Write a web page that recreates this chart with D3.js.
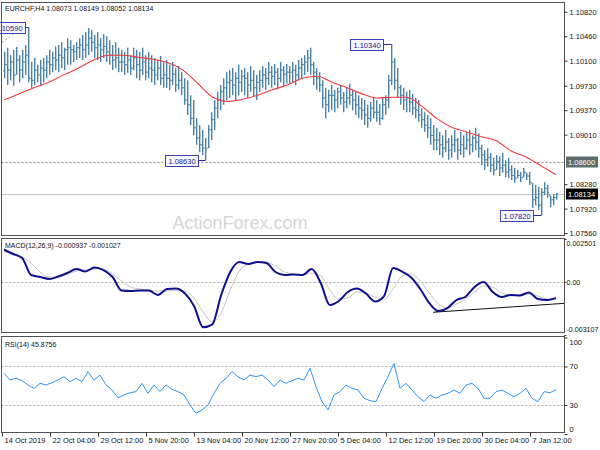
<!DOCTYPE html>
<html><head><meta charset="utf-8">
<script src="https://cdn.jsdelivr.net/npm/d3@7"></script>
<style>
html,body{margin:0;padding:0;background:#fff;}
svg{display:block;font-family:"Liberation Sans",Arial,sans-serif;}
</style></head><body>
<svg id="c" width="600" height="450"></svg>
<script>
// ---------------- DATA ----------------
const titleText = "EURCHF,H4  1.08073 1.08149 1.08052 1.08134";
const macdTitle = "MACD(12,26,9) -0.000937 -0.001027";
const rsiTitle = "RSI(14) 45.8756";
const watermark = "ActionForex.com";
const firstOpen = 1.0995;
const highs = [1.1023,1.1029,1.1018,1.1026,1.1030,1.1018,1.1026,1.1033,1.1059,1.1008,1.1014,1.1004,1.1011,
1.1014,1.1018,1.1026,1.1023,1.1031,1.1033,1.1037,1.1029,1.1043,1.1040,1.1033,1.1037,1.1043,1.1048,
1.1052,1.1058,1.1055,1.1048,1.1052,1.1043,1.1049,1.1046,1.1040,1.1033,1.1037,1.1029,
1.1026,1.1023,1.1029,1.1018,1.1029,1.1026,1.1023,1.1029,1.1018,1.1023,
1.1018,1.1014,1.1011,1.1017,1.1008,1.1011,1.1004,1.1008,1.0999,1.1002,
1.0993,1.0984,1.0981,1.0959,1.0952,1.0925,1.0915,1.0908,1.0896,1.0915,1.0934,1.0952,1.0964,
1.0974,1.0984,1.0993,1.0996,1.0999,1.0993,1.1004,1.0996,1.0999,1.0993,1.1002,1.0996,1.0989,
1.0996,1.1002,1.0999,1.1008,1.1002,1.1005,1.0999,1.1008,1.1002,1.1005,1.1002,1.1008,1.1004,1.1011,1.1014,
1.1018,1.1026,1.1029,1.1008,1.0999,1.0993,1.0981,1.0970,1.0967,
1.0974,1.0967,1.0970,1.0974,1.0964,1.0970,1.0976,1.0967,1.0964,1.0959,
1.0955,1.0952,1.0945,1.0949,1.0955,1.0952,1.0946,1.0955,1.0959,1.0989,1.1034,1.1014,1.0999,
1.0974,1.0970,1.0964,1.0967,1.0961,1.0955,1.0952,1.0940,1.0934,1.0930,1.0925,1.0915,
1.0911,1.0905,1.0900,1.0908,1.0896,1.0900,1.0908,1.0896,1.0905,1.0900,
1.0905,1.0908,1.0900,1.0911,1.0903,1.0886,1.0878,1.0881,1.0874,1.0867,1.0871,
1.0869,1.0874,1.0863,1.0867,1.0856,1.0852,1.0849,1.0846,1.0852,1.0845,1.0846,1.0830,
1.0827,1.0824,1.0822,1.0831,1.0827,1.0811,1.0813,1.08149];
const lows = [1.0984,1.0974,1.0981,1.0973,1.0989,1.0978,1.0984,1.0989,1.0978,1.0970,1.0974,1.0978,1.0973,
1.0978,1.0984,1.0989,1.0993,1.0996,1.0993,1.0999,1.0996,1.1004,1.1004,1.1008,1.1011,1.1014,1.1011,
1.1014,1.1018,1.1023,1.1014,1.1011,1.1008,1.1014,1.1008,1.1004,1.0996,1.0999,1.0993,
1.0993,1.0989,1.0992,1.0989,1.0996,1.0984,1.0981,1.0989,1.0981,1.0984,
1.0978,1.0974,1.0981,1.0974,1.0970,1.0970,1.0967,1.0974,1.0964,1.0967,
1.0959,1.0945,1.0930,1.0915,1.0900,1.0886,1.0875,1.0871,1.0863,1.0881,1.0893,1.0908,1.0925,
1.0937,1.0945,1.0952,1.0955,1.0959,1.0952,1.0959,1.0964,1.0959,1.0955,1.0964,1.0958,1.0952,
1.0964,1.0970,1.0967,1.0974,1.0970,1.0974,1.0970,1.0978,1.0973,1.0976,1.0976,1.0978,1.0974,1.0981,1.0984,
1.0989,1.0993,1.0989,1.0974,1.0967,1.0964,1.0940,1.0925,1.0934,
1.0937,1.0934,1.0940,1.0945,1.0934,1.0940,1.0945,1.0937,1.0930,1.0925,
1.0923,1.0915,1.0911,1.0920,1.0925,1.0920,1.0915,1.0923,1.0930,1.0940,1.0974,1.0967,1.0955,
1.0945,1.0937,1.0934,1.0934,1.0930,1.0925,1.0920,1.0911,1.0905,1.0896,1.0886,1.0878,
1.0878,1.0871,1.0867,1.0875,1.0864,1.0867,1.0875,1.0864,1.0871,1.0867,
1.0878,1.0871,1.0875,1.0878,1.0867,1.0856,1.0849,1.0854,1.0846,1.0841,1.0849,
1.0840,1.0845,1.0838,1.0837,1.0834,1.0830,1.0837,1.0831,1.0838,1.0834,1.0827,1.0793,
1.0797,1.0790,1.0782,1.0812,1.0808,1.0794,1.0797,1.08052];
const closes = [1.1004,1.0996,1.1008,1.0989,1.1011,1.0996,1.1008,1.1018,1.0984,1.0981,1.0996,1.0989,1.0999,
1.0996,1.1008,1.1004,1.1014,1.1011,1.1018,1.1014,1.1026,1.1029,1.1026,1.1023,1.1029,1.1033,1.1026,
1.1033,1.1043,1.1037,1.1029,1.1033,1.1026,1.1031,1.1023,1.1018,1.1011,1.1014,1.1008,
1.1008,1.1004,1.1011,1.0999,1.1014,1.1004,1.0996,1.1008,1.0993,1.0999,
1.0996,1.0989,1.0999,1.0984,1.0989,1.0984,1.0981,1.0990,1.0974,1.0981,
1.0970,1.0952,1.0945,1.0925,1.0911,1.0896,1.0886,1.0881,1.0878,1.0908,1.0923,1.0940,1.0952,
1.0964,1.0970,1.0978,1.0981,1.0974,1.0984,1.0978,1.0987,1.0984,1.0974,1.0981,1.0970,1.0978,
1.0981,1.0989,1.0984,1.0993,1.0987,1.0993,1.0984,1.0996,1.0990,1.0993,1.0993,1.0996,1.0989,1.0999,1.1004,
1.1008,1.1014,1.1004,1.0993,1.0984,1.0974,1.0955,1.0945,1.0959,
1.0959,1.0952,1.0964,1.0955,1.0949,1.0955,1.0959,1.0952,1.0945,1.0940,
1.0937,1.0930,1.0925,1.0940,1.0934,1.0934,1.0925,1.0945,1.0952,1.0981,1.1008,1.0981,1.0970,
1.0959,1.0952,1.0955,1.0949,1.0940,1.0937,1.0930,1.0923,1.0915,1.0911,1.0900,1.0893,
1.0893,1.0886,1.0881,1.0890,1.0878,1.0886,1.0893,1.0878,1.0886,1.0881,
1.0893,1.0886,1.0896,1.0890,1.0881,1.0871,1.0864,1.0867,1.0856,1.0849,1.0861,
1.0852,1.0856,1.0846,1.0849,1.0841,1.0837,1.0841,1.0837,1.0846,1.0840,1.0831,1.0805,
1.0808,1.0797,1.0816,1.0822,1.0816,1.0805,1.0808,1.08134];
// moving average (red), sampled evenly across the bars
const maValues = [1.0952,1.0961,1.0970,1.0978,1.0989,1.0999,1.1011,1.1018,1.1018,1.1015,1.1012,1.1007,1.0996,
1.0976,1.0956,1.0950,1.0953,1.0959,1.0967,1.0974,1.0984,1.0987,1.0978,1.0970,1.0961,1.0955,1.0956,
1.0956,1.0943,1.0925,1.0912,1.0905,1.0898,1.0892,1.0877,1.0868,1.0855,1.0842];
const macdMain = [0.001887,0.001624,0.001390,0.000397,0.000280,0.000164,0.000310,0.000514,0.000748,0.000602,
0.000835,0.000689,0.000280,-0.000508,-0.000537,-0.000508,-0.000508,-0.000771,-0.000421,-0.000391,
-0.000684,-0.001414,-0.002650,-0.002500,-0.000771,0.000573,0.001157,0.001040,0.001157,0.001098,
0.000573,0.000397,0.000426,0.000397,0.000748,-0.000070,-0.001355,-0.001122,-0.000596,-0.000391,
-0.000684,-0.001151,-0.000830,0.000806,0.000590,0.000251,-0.000421,-0.001239,-0.001706,-0.001531,
-0.001063,-0.000870,-0.000304,-0.000012,-0.000596,-0.000888,-0.000771,-0.000800,-0.000625,-0.001005,
-0.001063,-0.000937];
const macdSignal = [0.001741,0.001682,0.001449,0.001098,0.000573,0.000280,0.000280,0.000456,0.000631,0.000689,
0.000748,0.000719,0.000456,0.000047,-0.000304,-0.000421,-0.000479,-0.000537,-0.000537,-0.000479,
-0.000537,-0.000946,-0.001764,-0.002348,-0.001823,-0.000479,0.000631,0.001040,0.001128,0.001157,
0.000923,0.000573,0.000456,0.000397,0.000514,0.000339,-0.000479,-0.001005,-0.000946,-0.000596,
-0.000654,-0.000888,-0.001005,-0.000421,0.000339,0.000456,0.000047,-0.000654,-0.001297,-0.001531,
-0.001297,-0.001005,-0.000596,-0.000245,-0.000304,-0.000654,-0.000771,-0.000771,-0.000713,-0.000830,
-0.001005,-0.001027];
const rsiValues = [62.9,56.0,57.7,55.3,50.8,47.3,52.5,50.8,53.2,56.0,
59.4,54.2,57.7,54.2,64.6,56.0,61.1,50.8,45.6,37.6,
40.4,42.8,43.9,52.5,42.1,50.8,43.9,50.8,46.3,43.9,
40.4,30.1,21.4,24.9,30.1,42.1,52.5,57.7,64.6,59.4,
56.0,61.1,59.4,61.1,56.0,49.0,56.0,52.5,55.3,57.7,
56.0,68.1,49.0,33.5,24.9,40.4,43.9,50.8,47.3,45.6,
37.0,34.5,33.5,47.3,59.4,73.2,47.3,52.5,45.6,38.7,
33.5,40.4,37.0,40.4,42.1,45.6,42.1,50.8,52.5,47.3,
37.0,37.0,43.9,45.6,42.1,38.7,42.1,47.3,37.0,33.5,
43.9,42.8,45.9];
const dateLabels = ["14 Oct 2019","22 Oct 04:00","29 Oct 12:00","5 Nov 20:00","13 Nov 04:00","20 Nov 12:00",
"27 Nov 20:00","5 Dec 04:00","12 Dec 12:00","19 Dec 20:00","30 Dec 04:00","7 Jan 12:00"];
const barsPerLabel = 16;
const priceTicks = [1.0756,1.0792,1.0828,1.0901,1.0937,1.0973,1.1010,1.1046,1.1082];
const macdTicks = [0.002501,0,-0.003107];
const macdTickText = ["0.002501","0.00","-0.003107"];
const rsiTicks = [100,70,30,0];
const rsiLevels = [70,30];
const hLine = 1.0860;
const lastPrice = 1.08134;
const notes = [{i:8,p:1.1059,t:"1.10590"},{i:67,p:1.0863,t:"1.08630"},{i:129,p:1.1034,t:"1.10340"},{i:179,p:1.0782,t:"1.07820"}];
const noteGap = [3,7,8,8];
const mainTrend = [[0,1.1037],[6,1.1058]];
const macdTrend = [[143,-0.00178],[184,-0.00129]];

// ---------------- LAYOUT ----------------
const svg = d3.select("#c");
const L = 1.5, R = 564.5;
const P = {main:{t:2.5,b:235.5}, macd:{t:238.5,b:332.5}, rsi:{t:336.5,b:432.5}};
const n = highs.length;
const x = d3.scaleLinear().domain([0,n-1]).range([4,556]);
const y = d3.scaleLinear().domain([1.0756,1.1082]).range([233.06,11.74]);
const ym = d3.scaleLinear().domain([-0.003107,0.002501]).range([335,239]);
const yr = d3.scaleLinear().domain([0,100]).range([434,337.5]);
const FONT = '"Liberation Sans",Arial,sans-serif';
const AX = 7.5;

const defs = svg.append("defs");
Object.entries(P).forEach(([k,p])=>{
  defs.append("clipPath").attr("id","clip-"+k).append("rect")
    .attr("x",L).attr("y",p.t).attr("width",R-L).attr("height",p.b-p.t);
});
svg.append("rect").attr("width",600).attr("height",450).attr("fill","#fff");

svg.append("text").attr("x",240).attr("y",229).attr("text-anchor","middle")
  .attr("font-size",18).attr("fill","#d6d6d6").attr("font-family",FONT).text(watermark);

// ---------- main panel ----------
const gm = svg.append("g").attr("clip-path","url(#clip-main)");
gm.append("line").attr("x1",L).attr("x2",R).attr("y1",Math.round(y(lastPrice))+0.5).attr("y2",Math.round(y(lastPrice))+0.5)
  .attr("stroke","#c4c4c4").attr("stroke-width",1);
gm.append("line").attr("x1",L).attr("x2",R).attr("y1",Math.round(y(hLine))+0.5).attr("y2",Math.round(y(hLine))+0.5)
  .attr("stroke","#8a8a8a").attr("stroke-dasharray","2,2");
gm.append("line").attr("x1",x(mainTrend[0][0])-2).attr("y1",y(mainTrend[0][1]))
  .attr("x2",x(mainTrend[1][0])).attr("y2",y(mainTrend[1][1]))
  .attr("stroke","#9a9a9a").attr("stroke-dasharray","2,2");

const bars = highs.map((h,i)=>{
  const prev = i===0 ? firstOpen : closes[i-1];
  return {i, h, l:lows[i], c:closes[i], o:Math.max(lows[i],Math.min(h,prev))};
});
const BAR = "#4b82a8";
gm.selectAll("rect.v").data(bars).join("rect").attr("class","v")
  .attr("x",d=>Math.round(x(d.i))).attr("y",d=>y(d.h)).attr("width",1.4)
  .attr("height",d=>Math.max(1,y(d.l)-y(d.h))).attr("fill",BAR);
gm.selectAll("rect.o").data(bars).join("rect").attr("class","o")
  .attr("x",d=>Math.round(x(d.i))-1).attr("y",d=>y(d.o)-0.5).attr("width",1).attr("height",1).attr("fill",BAR);
gm.selectAll("rect.cl").data(bars).join("rect").attr("class","cl")
  .attr("x",d=>Math.round(x(d.i))+1).attr("y",d=>y(d.c)-0.5).attr("width",1).attr("height",1).attr("fill",BAR);

const maIdx = d3.scaleLinear().domain([0,maValues.length-1]).range([0,n-1]);
gm.append("path").datum(maValues)
  .attr("d",d3.line().x((d,k)=>x(maIdx(k))).y(d=>y(d)).curve(d3.curveMonotoneX))
  .attr("fill","none").attr("stroke","#f03a3a").attr("stroke-width",1.1);

// annotation boxes
const gn = svg.append("g");
notes.forEach((nt,k)=>{
  const px = x(nt.i), py = y(nt.p);
  const bw = 33, bh = 11, right = px - noteGap[k];
  gn.append("line").attr("x1",right).attr("x2",px+0.5).attr("y1",Math.round(py)+0.5).attr("y2",Math.round(py)+0.5)
    .attr("stroke","#2a2a8a").attr("stroke-width",1);
  gn.append("rect").attr("x",right-bw+0.5).attr("y",Math.round(py-bh/2)+0.5).attr("width",bw).attr("height",bh)
    .attr("fill","#f6f6ff").attr("stroke","#4040b0").attr("stroke-width",1);
  gn.append("text").attr("x",right-bw/2+0.5).attr("y",Math.round(py)+3.5).attr("text-anchor","middle")
    .attr("font-size",AX).attr("font-family",FONT).attr("fill","#1c1c80").text(nt.t);
});

// ---------- MACD panel ----------
const gmc = svg.append("g").attr("clip-path","url(#clip-macd)");
gmc.append("line").attr("x1",L).attr("x2",R).attr("y1",Math.round(ym(0))+0.5).attr("y2",Math.round(ym(0))+0.5)
  .attr("stroke","#a8a8a8").attr("stroke-dasharray","2,2");
const mIdx = d3.scaleLinear().domain([0,macdMain.length-1]).range([0,n-1]);
gmc.append("path").datum(macdSignal)
  .attr("d",d3.line().x((d,k)=>x(mIdx(k))).y(d=>ym(d)).curve(d3.curveMonotoneX))
  .attr("fill","none").attr("stroke","#c3c3c3").attr("stroke-width",1);
gmc.append("path").datum(macdMain)
  .attr("d",d3.line().x((d,k)=>x(mIdx(k))).y(d=>ym(d)).curve(d3.curveMonotoneX))
  .attr("fill","none").attr("stroke","#10108f").attr("stroke-width",2);
{
  const x1 = x(macdTrend[0][0]), y1 = ym(macdTrend[0][1]);
  const x2 = x(macdTrend[1][0]), y2 = ym(macdTrend[1][1]);
  const slope = (y2-y1)/(x2-x1);
  gmc.append("line").attr("x1",x1).attr("y1",y1).attr("x2",R).attr("y2",y1+slope*(R-x1))
    .attr("stroke","#111").attr("stroke-width",1);
}

// ---------- RSI panel ----------
const gr = svg.append("g").attr("clip-path","url(#clip-rsi)");
rsiLevels.forEach(v=>{
  gr.append("line").attr("x1",L).attr("x2",R).attr("y1",Math.round(yr(v))+0.5).attr("y2",Math.round(yr(v))+0.5)
    .attr("stroke","#a8a8a8").attr("stroke-dasharray","2,2");
});
const rIdx = d3.scaleLinear().domain([0,rsiValues.length-1]).range([0,n-1]);
gr.append("path").datum(rsiValues)
  .attr("d",d3.line().x((d,k)=>x(rIdx(k))).y(d=>yr(d)))
  .attr("fill","none").attr("stroke","#2f96f0").attr("stroke-width",1);

// ---------- panel frames ----------
Object.values(P).forEach(p=>{
  svg.append("rect").attr("x",L).attr("y",p.t).attr("width",R-L).attr("height",p.b-p.t)
    .attr("fill","none").attr("stroke","#505050").attr("stroke-width",1);
});

// ---------- axes ----------
function styleAxis(size){
  return g=>{
    g.select(".domain").remove();
    g.selectAll("line").attr("stroke","#333");
    g.selectAll("text").attr("font-size",size).attr("font-family",FONT).attr("fill","#111");
  };
}
svg.append("g").attr("transform",`translate(${R},0)`)
  .call(d3.axisRight(y).tickValues(priceTicks).tickFormat(d3.format(".5f")).tickSize(3).tickPadding(2))
  .call(styleAxis(AX));
svg.append("g").attr("transform",`translate(${R},0)`)
  .call(d3.axisRight(ym).tickValues(macdTicks).tickFormat((d,k)=>macdTickText[k]).tickSize(2).tickPadding(0))
  .call(styleAxis(7.1))
  .call(g=>g.selectAll(".tick text").attr("dy",(d,k)=>k===0?"0.85em":(k===2?"-0.55em":"0.32em")));
svg.append("g").attr("transform",`translate(${R},0)`)
  .call(d3.axisRight(yr).tickValues(rsiTicks).tickSize(3).tickPadding(2))
  .call(styleAxis(AX))
  .call(g=>g.selectAll(".tick text").attr("dy",(d)=>d===100?"0.95em":(d===0?"-0.3em":"0.32em")));
svg.append("g").attr("transform",`translate(-2,${P.rsi.b})`)
  .call(d3.axisBottom(x).tickValues(dateLabels.map((d,k)=>k*barsPerLabel)).tickFormat((d,k)=>dateLabels[k]).tickSize(4).tickPadding(1))
  .call(styleAxis(AX))
  .call(g=>g.selectAll(".tick text").attr("text-anchor","start").attr("x",2));

// price tags on axis
[[hLine,"#5d6c6c","1.08600"],[lastPrice,"#000","1.08134"]].forEach(([v,fill,t])=>{
  const py = Math.round(y(v));
  svg.append("rect").attr("x",566).attr("y",py-5.5).attr("width",32).attr("height",11).attr("fill",fill);
  svg.append("text").attr("x",568).attr("y",py+3).attr("font-size",AX).attr("font-family",FONT).attr("fill","#fff").text(t);
});

// titles
svg.append("text").attr("x",5).attr("y",10.5).attr("font-size",7).attr("font-family",FONT).attr("fill","#111").text(titleText);
svg.append("text").attr("x",5).attr("y",248).attr("font-size",7).attr("font-family",FONT).attr("fill","#111").text(macdTitle);
svg.append("text").attr("x",5).attr("y",347).attr("font-size",7).attr("font-family",FONT).attr("fill","#111").text(rsiTitle);
</script>
</body></html>
